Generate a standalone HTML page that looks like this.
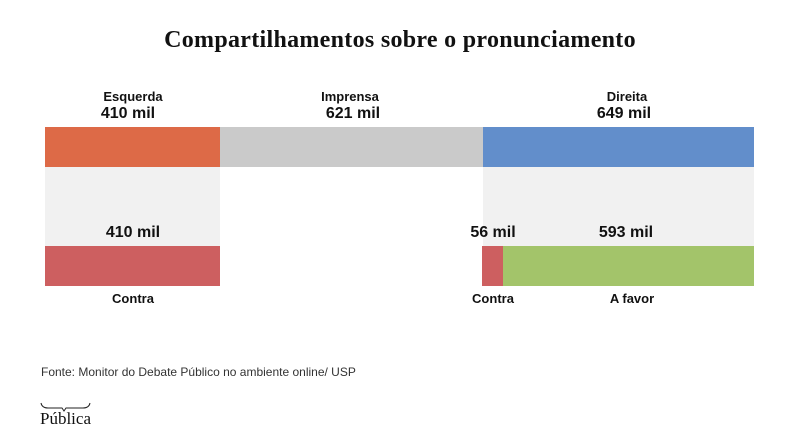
<!DOCTYPE html>
<html><head><meta charset="utf-8"><style>
body{margin:0;width:800px;height:431px;background:#fff;position:relative;overflow:hidden;font-family:"Liberation Sans",sans-serif;}
.a{position:absolute}
.t{font-weight:bold;color:#111;text-align:center;white-space:nowrap}
</style></head><body>
<div class="a t" style="left:0;width:800px;top:27px;font-family:'Liberation Serif',serif;font-size:24px;letter-spacing:0.3px">Compartilhamentos sobre o pronunciamento</div>
<div class="a" style="left:45px;top:167px;width:175px;height:79px;background:#f1f1f1"></div>
<div class="a" style="left:483px;top:167px;width:271px;height:79px;background:#f1f1f1"></div>
<div class="a" style="left:45px;top:127px;width:175px;height:40px;background:#dd6a47"></div>
<div class="a" style="left:220px;top:127px;width:263px;height:40px;background:#cacaca"></div>
<div class="a" style="left:483px;top:127px;width:271px;height:40px;background:#628ecb"></div>
<div class="a" style="left:45px;top:246px;width:175px;height:40px;background:#cd5f60"></div>
<div class="a" style="left:482px;top:246px;width:21px;height:40px;background:#cd5f60"></div>
<div class="a" style="left:503px;top:246px;width:251px;height:40px;background:#a3c46a"></div>
<div class="a t" style="left:83px;width:100px;top:89px;font-size:13px">Esquerda</div>
<div class="a t" style="left:78px;width:100px;top:105px;font-size:16px">410 mil</div>
<div class="a t" style="left:300px;width:100px;top:89px;font-size:13px">Imprensa</div>
<div class="a t" style="left:303px;width:100px;top:105px;font-size:16px">621 mil</div>
<div class="a t" style="left:577px;width:100px;top:89px;font-size:13px">Direita</div>
<div class="a t" style="left:574px;width:100px;top:105px;font-size:16px">649 mil</div>
<div class="a t" style="left:83px;width:100px;top:224px;font-size:16px">410 mil</div>
<div class="a t" style="left:443px;width:100px;top:224px;font-size:16px">56 mil</div>
<div class="a t" style="left:576px;width:100px;top:224px;font-size:16px">593 mil</div>
<div class="a t" style="left:83px;width:100px;top:291px;font-size:13px">Contra</div>
<div class="a t" style="left:443px;width:100px;top:291px;font-size:13px">Contra</div>
<div class="a t" style="left:582px;width:100px;top:291px;font-size:13px">A favor</div>
<div class="a" style="left:41px;top:365px;font-size:12px;color:#333">Fonte: Monitor do Debate Público no ambiente online/ USP</div>
<svg class="a" style="left:40px;top:402px" width="52" height="10"><path d="M1 1 Q2 6 8 6 L22 6 L24 9 L26 6 L43 6 Q49 6 50 1" fill="none" stroke="#222" stroke-width="1"/></svg>
<div class="a" style="left:40px;top:409px;font-family:'Liberation Serif',serif;font-size:17px;color:#111">Pública</div>
</body></html>
